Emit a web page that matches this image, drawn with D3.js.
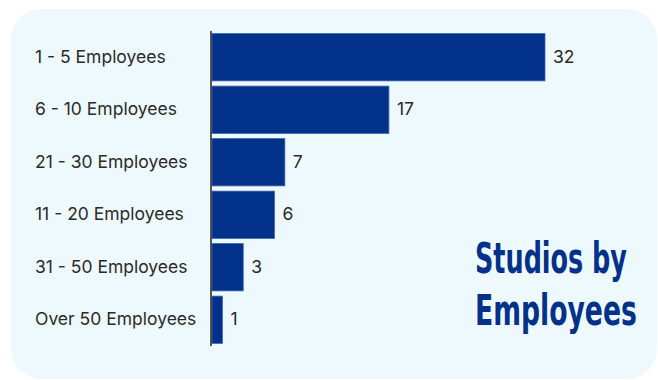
<!DOCTYPE html>
<html>
<head>
<meta charset="utf-8">
<script src="https://cdn.jsdelivr.net/npm/d3@7"></script>
<style>
  html, body { margin: 0; padding: 0; background: #ffffff; }
  svg { display: block; }
</style>
</head>
<body>
<svg id="chart" width="658" height="380"></svg>
<script>
// Studio counts by headcount bracket
const categories = ["1 - 5 Employees", "6 - 10 Employees", "21 - 30 Employees",
                    "11 - 20 Employees", "31 - 50 Employees", "Over 50 Employees"];
const studios = [32, 17, 7, 6, 3, 1];
const titleLines = ["Studios by", "Employees"];

const svg = d3.select("#chart");

// card background
svg.append("rect")
  .attr("x", 11).attr("y", 9)
  .attr("width", 646).attr("height", 370)
  .attr("rx", 30).attr("ry", 30)
  .attr("fill", "#eef9fe");

const x = d3.scaleLinear().domain([0, 32]).range([212, 545]);
const y = d3.scaleBand().domain(categories).range([31, 346]).paddingInner(0.1).paddingOuter(0.05);

// bars
svg.append("g").selectAll("rect")
  .data(categories)
  .join("rect")
  .attr("x", x(0))
  .attr("y", d => y(d))
  .attr("width", (d, i) => x(studios[i]) - x(0))
  .attr("height", y.bandwidth())
  .attr("fill", "#013189")
  .attr("stroke", "#3d62ae")
  .attr("stroke-width", 0.8);

const labelFont = "Inter, Roboto, 'Noto Sans', sans-serif";

// category axis
const yAxis = svg.append("g")
  .attr("transform", `translate(${x(0) - 1},0)`)
  .call(d3.axisLeft(y).tickSize(0).tickPadding(14));
yAxis.select(".domain").attr("stroke", "#222").attr("stroke-width", 1.5)
  .attr("d", "M0,31V346");
yAxis.selectAll("text")
  .attr("x", -176)
  .attr("dy", "0.3em")
  .attr("text-anchor", "start")
  .attr("fill", "#2a2a2a")
  .style("font-family", labelFont)
  .style("font-size", "17.5px");

// value labels
svg.append("g").selectAll("text")
  .data(categories)
  .join("text")
  .attr("x", (d, i) => x(studios[i]) + 8)
  .attr("y", d => y(d) + y.bandwidth() / 2)
  .attr("dy", "0.32em")
  .attr("fill", "#2a2a2a")
  .style("font-family", labelFont)
  .style("font-size", "17.5px")
  .text((d, i) => studios[i]);

// title, squeezed horizontally to a condensed look
const titleWidths = [152, 162];
svg.append("g").selectAll("text")
  .data(titleLines)
  .join("text")
  .attr("fill", "#013189")
  .style("font-family", "'Liberation Sans Narrow', 'DejaVu Sans Condensed', sans-serif")
  .style("font-weight", "bold")
  .style("font-size", "42px")
  .text(d => d)
  .each(function(d, i) {
    const w = this.getComputedTextLength();
    const k = titleWidths[i] / w;
    d3.select(this).attr("transform", `translate(475,${273 + i * 52}) scale(${k},1)`);
  });
</script>
</body>
</html>
